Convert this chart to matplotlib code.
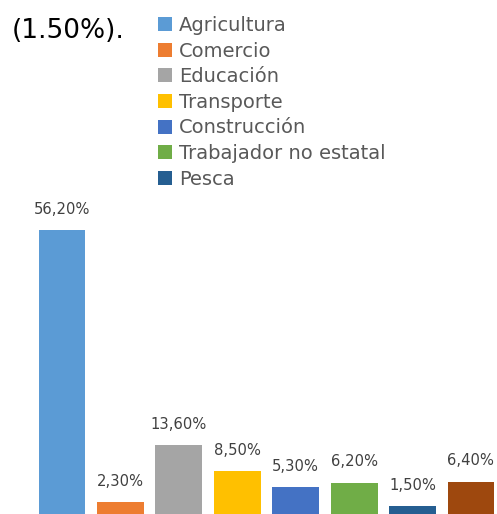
import matplotlib
matplotlib.use("Agg")
import matplotlib.pyplot as plt

categories = ["Agricultura", "Comercio", "Educación", "Transporte", "Construcción",
              "Trabajador no estatal", "Pesca", "Otros"]
values = [56.2, 2.3, 13.6, 8.5, 5.3, 6.2, 1.5, 6.4]
labels = ["56,20%", "2,30%", "13,60%", "8,50%", "5,30%", "6,20%", "1,50%", "6,40%"]
colors = ["#5B9BD5", "#ED7D31", "#A5A5A5", "#FFC000", "#4472C4", "#70AD47", "#255E91", "#9E480E"]

plt.rcParams["font.family"] = ["DejaVu Sans"]

fig = plt.figure(figsize=(4.97, 5.14), dpi=100)
ax = fig.add_axes([0, 0, 1, 1])
ax.axis("off")

x = range(len(values))
bars = ax.bar(x, values, width=0.8, color=colors, label=categories)
ax.set_xlim(-1.061, 7.445)
ax.set_ylim(0, 101.8)

for b, lab in zip(bars, labels):
    ax.annotate(lab, (b.get_x() + b.get_width() / 2, b.get_height()),
                xytext=(0, 15), textcoords="offset points", ha="center", va="center",
                fontsize=10.6, color="#404040")

leg = ax.legend(handles=list(bars)[:7], labels=categories[:7], loc="upper left",
                bbox_to_anchor=(158 / 497, 1 - 16 / 514), bbox_transform=fig.transFigure,
                frameon=False, fontsize=14, handlelength=0.72, handleheight=0.72,
                handletextpad=0.35, labelspacing=0.34, borderaxespad=0, borderpad=0)
for t in leg.get_texts():
    t.set_color("#595959")

fig.text(12 / 497, 1 - 31 / 514, "(1.50%).", fontsize=19, color="black", va="center", ha="left")

fig.savefig("out.png", dpi=100)
